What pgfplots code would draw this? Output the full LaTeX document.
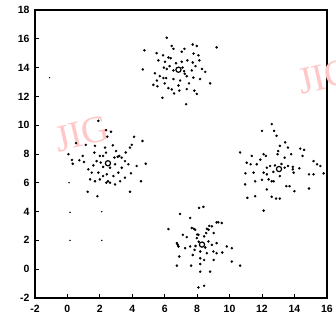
\documentclass[border=0pt]{standalone}
\usepackage{pgfplots}
\pgfplotsset{compat=1.18}
\usepackage{fontspec}
\setmainfont{Liberation Sans}
\newfontfamily\wmfont{Liberation Serif}
\begin{document}
\begin{tikzpicture}
\begin{axis}[
  scale only axis, width=292pt, height=288pt,
  xmin=-2, xmax=16, ymin=-2, ymax=18,
  xtick={-2,0,...,16}, ytick={-2,0,...,18},
  xtick pos=bottom, ytick pos=left,
  tick align=inside, major tick length=4pt,
  axis line style={line width=1.6pt},
  every tick/.style={black, line width=0.8pt},
  tick label style={font=\fontsize{10.5}{12}\selectfont\bfseries},
  /pgf/number format/assume math mode=true,
  xticklabel style={yshift=-4pt},
  yticklabel style={xshift=-2pt},
  clip=false,
]
\node[overlay, rotate=13, text=red!22, font=\wmfont\fontsize{38}{40}\selectfont] at (axis cs:0.9,9.4) {JIG};
\node[overlay, rotate=13, text=red!22, font=\wmfont\fontsize{38}{40}\selectfont] at (axis cs:15.9,13.4) {JIG};
% cluster points
\addplot[only marks, mark=*, mark size=1.05pt, black] coordinates {
% top cluster
(6.13,16.07)(4.75,15.2)(6.43,15.5)(6.54,15.3)(7.22,15.3)(7.73,15.6)(7.98,15.5)(9.2,15.4)
(5.5,15.0)(5.9,14.85)(6.23,14.7)(6.37,14.65)(7.05,15.1)(7.78,14.97)(8.08,14.85)
(5.61,14.5)(6.02,14.4)(7.05,14.4)(7.4,14.5)(7.73,14.35)(8.14,14.5)(4.65,13.87)
(5.95,14.0)(6.13,13.9)(6.54,13.8)(7.1,14.0)(7.24,13.57)(7.36,13.4)(7.67,13.8)(8.5,13.7)
(5.4,13.6)(5.92,13.27)(6.09,13.27)(5.52,13.1)(6.54,13.2)(6.95,13.1)(7.77,13.3)(8.18,13.2)
(8.8,12.9)(5.3,12.8)(5.55,12.7)(6.23,12.57)(6.44,12.48)(6.85,12.75)(7.36,12.5)(7.83,12.4)
(5.86,11.9)(6.58,12.2)(7.98,12.17)(7.32,11.45)(6.3,14.1)(7.2,13.75)(6.7,14.3)(7.9,14.1)
(5.7,13.4)(7.5,12.9)(6.9,12.4)(8.3,13.9)(6.0,12.9)
% left cluster
(1.91,10.3)(2.38,9.65)(2.46,9.2)(2.69,9.54)(4.11,9.19)(4.63,8.9)(3.97,8.63)(3.86,8.44)
(0.53,8.75)(1.13,8.63)(1.7,8.56)(0.06,7.98)(0.28,7.58)(0.33,7.32)(0.74,7.56)(1.02,7.44)
(1.66,8.09)(2.0,7.86)(2.32,8.44)(2.38,8.09)(3.0,8.2)(3.2,7.86)(3.35,7.74)(1.8,7.5)
(2.05,7.4)(2.63,7.04)(2.94,7.28)(3.55,7.5)(3.76,7.28)(4.27,7.16)(4.83,7.32)(1.29,6.93)
(1.5,6.7)(1.4,6.23)(1.7,6.1)(2.0,6.23)(2.2,6.46)(2.43,6.58)(2.84,6.46)(2.63,6.0)
(2.94,5.88)(3.25,6.1)(3.55,6.35)(3.92,6.65)(1.91,6.7)(4.54,6.1)(1.25,5.37)(1.85,5.06)
(3.86,5.37)(0.94,7.86)(3.35,7.04)(3.14,6.7)(2.2,7.86)(2.9,7.75)(3.1,7.8)(2.5,6.1)
(2.4,6.0)(1.6,7.2)(3.6,8.1)(2.8,8.6)(2.2,7.1)
% right cluster
(12.6,10.07)(12.0,9.6)(12.75,9.6)(12.9,9.26)(13.43,8.8)(10.65,8.1)(13.1,8.56)(13.0,8.2)
(13.6,8.44)(14.36,8.37)(14.6,8.28)(11.37,7.86)(12.1,7.98)(12.24,7.86)(12.96,7.98)(13.8,7.98)
(14.5,7.86)(11.06,7.39)(11.3,7.28)(11.68,7.28)(12.3,7.04)(12.5,7.16)(13.4,7.04)(13.6,7.16)
(13.9,6.93)(13.95,6.7)(15.18,7.5)(15.4,7.28)(15.6,7.16)(14.9,6.58)(15.18,6.58)(15.8,6.65)
(10.98,6.65)(11.48,6.7)(12.1,6.7)(12.3,6.58)(12.41,6.23)(12.72,6.1)(13.1,6.46)(13.5,5.76)
(13.7,5.76)(10.96,5.88)(11.58,6.1)(12.3,5.53)(14.0,5.41)(14.9,5.6)(11.1,4.95)(11.58,5.06)
(12.6,5.02)(12.87,4.9)(13.1,4.9)(12.1,4.06)(12.6,6.1)(13.4,7.74)(12.8,7.2)(13.2,7.3)
(12.7,6.75)(13.9,7.1)(11.9,7.6)(12.0,6.2)(14.3,7.0)
% bottom cluster
(6.95,3.83)(8.12,4.25)(8.39,4.32)(7.57,3.55)(9.2,3.24)(9.52,3.2)(6.23,2.78)(7.67,2.85)
(7.88,2.73)(8.7,2.73)(8.91,2.97)(7.36,2.22)(8.08,2.38)(8.43,2.27)(8.56,2.5)(9.02,2.5)
(7.12,2.38)(6.75,1.8)(6.85,1.57)(7.57,1.57)(8.7,1.92)(8.91,1.68)(9.2,1.8)(9.83,1.57)
(10.14,1.45)(7.84,1.33)(8.19,1.22)(8.6,1.1)(9.0,1.22)(9.2,1.1)(9.55,1.15)(6.9,0.87)
(7.73,0.98)(8.19,0.75)(8.43,0.63)(9.02,0.63)(10.14,0.52)(10.65,0.24)(6.75,0.24)(7.63,0.24)
(8.19,0.35)(8.19,-0.18)(8.8,-0.18)(8.08,-1.28)(8.43,-1.16)(7.26,1.45)(7.98,2.15)(8.75,3.0)
(8.6,2.8)(8.1,1.9)(7.9,1.6)(8.0,2.4)(9.3,3.25)(7.8,2.8)(8.5,1.5)(6.8,1.7)
};
% isolated specks
\addplot[only marks, mark=*, mark size=0.5pt, black] coordinates {
(0.1,6.0)(0.16,3.94)(2.12,3.99)(0.16,1.99)(2.12,1.99)(-1.1,13.3)
};
% centres
\addplot[only marks, mark=o, mark size=2.6pt, black, line width=1.2pt] coordinates {
(6.85,13.85)(2.5,7.35)(13.05,6.95)(8.3,1.7)
};
\end{axis}
\path ([xshift=-35pt,yshift=-24pt]current axis.south west) rectangle ([xshift=9pt,yshift=10pt]current axis.north east);
\end{tikzpicture}
\end{document}
